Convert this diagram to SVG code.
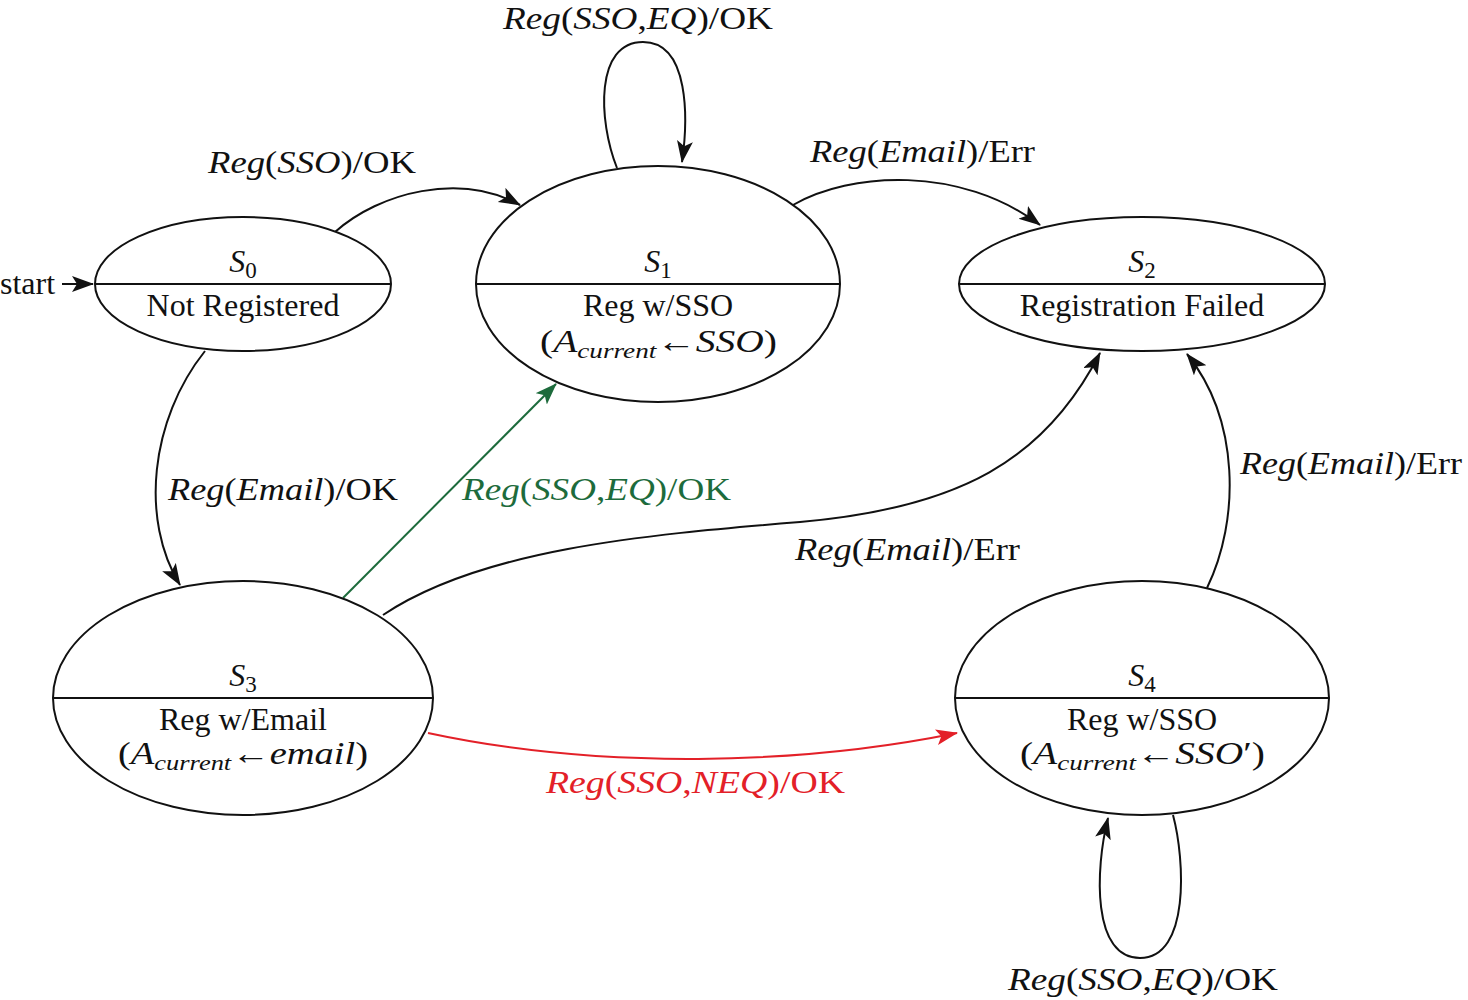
<svg xmlns="http://www.w3.org/2000/svg" width="1468" height="1000" viewBox="0 0 1468 1000">
<style>
text{font-family:"Liberation Serif","Times New Roman",serif;font-size:32px;fill:#111}
.i{font-style:italic}
.sub{font-size:23px;font-style:normal}
.subi{font-size:22px;font-style:italic}
.node ellipse{fill:#fff;stroke:#111;stroke-width:2}
.node line{stroke:#111;stroke-width:2}
.e{fill:none;stroke:#111;stroke-width:2}
.g{fill:none;stroke:#1d6b3c;stroke-width:2}
.r{fill:none;stroke:#e32028;stroke-width:2}
.mid{text-anchor:middle}
</style>
<defs>
<marker id="ab" markerUnits="userSpaceOnUse" markerWidth="24" markerHeight="18" refX="21" refY="8" orient="auto"><path d="M0,0 L22,8 L0,16 L5,8 z" fill="#111"/></marker>
<marker id="ag" markerUnits="userSpaceOnUse" markerWidth="24" markerHeight="18" refX="21" refY="8" orient="auto"><path d="M0,0 L22,8 L0,16 L5,8 z" fill="#1d6b3c"/></marker>
<marker id="ar" markerUnits="userSpaceOnUse" markerWidth="24" markerHeight="18" refX="21" refY="8" orient="auto"><path d="M0,0 L22,8 L0,16 L5,8 z" fill="#e32028"/></marker>
</defs>

<g id="connectors">
<line class="e" x1="62" y1="284" x2="93" y2="284" marker-end="url(#ab)"/>
<path class="e" d="M335,232 C380,192 460,172 520,205" marker-end="url(#ab)"/>
<path class="e" d="M617,168 C598,120 595,42 643,42 C690,42 688,120 682,162" marker-end="url(#ab)"/>
<path class="e" d="M793,205 C850,172 960,165 1040,225" marker-end="url(#ab)"/>
<path class="e" d="M205,351 C150,420 140,520 180,585" marker-end="url(#ab)"/>
<path class="g" d="M343,598 L556,384" marker-end="url(#ag)"/>
<path class="e" d="M383,615 C480,550 640,535 800,522 C960,508 1045,460 1100,353" marker-end="url(#ab)"/>
<path class="r" d="M428,733 C600,770 800,765 957,733" marker-end="url(#ar)"/>
<path class="e" d="M1207,588 C1240,520 1240,420 1187,354" marker-end="url(#ab)"/>
<path class="e" d="M1173,815 C1185,860 1190,958 1140,958 C1092,958 1095,870 1108,818" marker-end="url(#ab)"/>
</g>

<g id="labels">
<text x="0" y="294">start</text>
<text x="503" y="29" textLength="270" lengthAdjust="spacingAndGlyphs"><tspan class="i">Reg</tspan>(<tspan class="i">SSO</tspan>,<tspan class="i">EQ</tspan>)/OK</text>
<text x="208" y="173" textLength="208" lengthAdjust="spacingAndGlyphs"><tspan class="i">Reg</tspan>(<tspan class="i">SSO</tspan>)/OK</text>
<text x="810" y="162" textLength="225" lengthAdjust="spacingAndGlyphs"><tspan class="i">Reg</tspan>(<tspan class="i">Email</tspan>)/Err</text>
<text x="168" y="500" textLength="230" lengthAdjust="spacingAndGlyphs"><tspan class="i">Reg</tspan>(<tspan class="i">Email</tspan>)/OK</text>
<text x="462" y="500" textLength="269" lengthAdjust="spacingAndGlyphs" style="fill:#1d6b3c"><tspan class="i">Reg</tspan>(<tspan class="i">SSO</tspan>,<tspan class="i">EQ</tspan>)/OK</text>
<text x="795" y="560" textLength="225" lengthAdjust="spacingAndGlyphs"><tspan class="i">Reg</tspan>(<tspan class="i">Email</tspan>)/Err</text>
<text x="546" y="793" textLength="299" lengthAdjust="spacingAndGlyphs" style="fill:#e32028"><tspan class="i">Reg</tspan>(<tspan class="i">SSO</tspan>,<tspan class="i">NEQ</tspan>)/OK</text>
<text x="1240" y="474" textLength="222" lengthAdjust="spacingAndGlyphs"><tspan class="i">Reg</tspan>(<tspan class="i">Email</tspan>)/Err</text>
<text x="1008" y="990" textLength="270" lengthAdjust="spacingAndGlyphs"><tspan class="i">Reg</tspan>(<tspan class="i">SSO</tspan>,<tspan class="i">EQ</tspan>)/OK</text>
</g>

<g id="S0" class="node">
<ellipse cx="243" cy="284" rx="148" ry="67"/>
<line x1="95" y1="284" x2="391" y2="284"/>
<text x="243" y="272" class="mid"><tspan class="i">S</tspan><tspan class="sub" dy="6">0</tspan></text>
<text x="243" y="316" class="mid">Not Registered</text>
</g>

<g id="S1" class="node">
<ellipse cx="658" cy="284" rx="182" ry="118"/>
<line x1="476" y1="284" x2="840" y2="284"/>
<text x="658" y="272" class="mid"><tspan class="i">S</tspan><tspan class="sub" dy="6">1</tspan></text>
<text x="658" y="316" class="mid">Reg w/SSO</text>
<text x="540" y="352" textLength="237" lengthAdjust="spacingAndGlyphs">(<tspan class="i">A</tspan><tspan class="subi" dy="6">current</tspan><tspan dy="-6">←</tspan><tspan class="i">SSO</tspan>)</text>
</g>

<g id="S2" class="node">
<ellipse cx="1142" cy="284" rx="183" ry="67"/>
<line x1="959" y1="284" x2="1325" y2="284"/>
<text x="1142" y="272" class="mid"><tspan class="i">S</tspan><tspan class="sub" dy="6">2</tspan></text>
<text x="1142" y="316" class="mid">Registration Failed</text>
</g>

<g id="S3" class="node">
<ellipse cx="243" cy="698" rx="190" ry="117"/>
<line x1="53" y1="698" x2="433" y2="698"/>
<text x="243" y="686" class="mid"><tspan class="i">S</tspan><tspan class="sub" dy="6">3</tspan></text>
<text x="243" y="730" class="mid">Reg w/Email</text>
<text x="118" y="764" textLength="250" lengthAdjust="spacingAndGlyphs">(<tspan class="i">A</tspan><tspan class="subi" dy="6">current</tspan><tspan dy="-6">←</tspan><tspan class="i">email</tspan>)</text>
</g>

<g id="S4" class="node">
<ellipse cx="1142" cy="698" rx="187" ry="117"/>
<line x1="955" y1="698" x2="1329" y2="698"/>
<text x="1142" y="686" class="mid"><tspan class="i">S</tspan><tspan class="sub" dy="6">4</tspan></text>
<text x="1142" y="730" class="mid">Reg w/SSO</text>
<text x="1020" y="764" textLength="245" lengthAdjust="spacingAndGlyphs">(<tspan class="i">A</tspan><tspan class="subi" dy="6">current</tspan><tspan dy="-6">←</tspan><tspan class="i">SSO</tspan>′)</text>
</g>
</svg>
